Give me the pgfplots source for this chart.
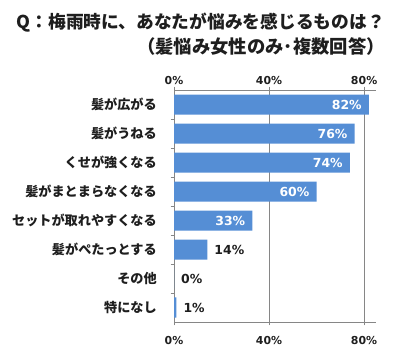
\documentclass[border=0pt]{standalone}
\usepackage{fontspec}
\usepackage{pgfplots}
\pgfplotsset{compat=1.18}
\newfontfamily\jp{Noto Sans CJK JP}
\newfontfamily\num{DejaVu Sans}
\definecolor{barblue}{RGB}{85,142,213}
\definecolor{axgray}{RGB}{134,134,134}
\definecolor{txt}{RGB}{30,30,30}
\begin{document}
\begin{tikzpicture}
\useasboundingbox (0,0) rectangle (400bp,361bp);
\node[anchor=east, inner sep=0pt, font=\jp\bfseries\fontsize{17.8}{21}\selectfont, text=txt] at (385bp,338bp) {Q：梅雨時に、あなたが悩みを感じるものは？};
\node[anchor=east, inner sep=0pt, font=\jp\bfseries\fontsize{18.4}{21}\selectfont, text=txt] at (385bp,314bp) {（髪悩み女性のみ･複数回答）};
\begin{axis}[at={(174bp,39bp)}, anchor=south west, scale only axis,
  width=202bp, height=232bp,
  xbar, bar shift=0pt, bar width=0.69,
  xmin=0, xmax=85, ymin=-0.5, ymax=7.5, y dir=reverse,
  axis x line=box, axis y line=left,
  axis line style={draw=axgray, -}, y axis line style={-},
  xtick={0,40,80}, xtick pos=both, tick align=outside,
  major tick length=3.3bp,
  tick style={draw=axgray, line width=0.6pt},
  xmajorgrids, grid style={draw=axgray, line width=0.6pt},
  xticklabel={\pgfmathprintnumber{\tick}\%},
  /pgf/number format/assume math mode=true,
  xticklabel style={font=\num\bfseries\fontsize{11}{13}\selectfont, text=txt, yshift=-8bp},
  ytick={0.5,1.5,...,6.5}, yticklabels={},
  extra y ticks={0,1,...,7},
  extra y tick labels={髪が広がる,髪がうねる,くせが強くなる,髪がまとまらなくなる,セットが取れやすくなる,髪がぺたっとする,その他,特になし},
  extra y tick style={major tick length=0pt, yticklabel style={font=\jp\bfseries\fontsize{13.2}{15}\selectfont, text=txt, anchor=east, inner sep=0pt, xshift=-17bp}},
]
\addplot[fill=barblue, draw=none,
  nodes near coords={\pgfmathprintnumber{\pgfplotspointmeta}\%},
  nodes near coords style={white, anchor=east, inner sep=0pt, xshift=-7bp, font=\num\bfseries\fontsize{12.5}{14}\selectfont}]
  coordinates {(82,0) (76,1) (74,2) (60,3) (33,4)};
\addplot[fill=barblue, draw=none,
  nodes near coords={\pgfmathprintnumber{\pgfplotspointmeta}\%},
  nodes near coords style={txt, anchor=west, inner sep=0pt, xshift=7bp, font=\num\bfseries\fontsize{12.5}{14}\selectfont}]
  coordinates {(14,5) (0,6) (1,7)};
\end{axis}
\begin{axis}[at={(174bp,39bp)}, anchor=south west, scale only axis,
  width=202bp, height=232bp,
  xmin=0, xmax=85, ymin=-0.5, ymax=7.5,
  axis x line=top, axis line style={draw=none}, hide y axis,
  xtick={0,40,80}, xtick style={draw=none},
  xticklabel={\pgfmathprintnumber{\tick}\%},
  /pgf/number format/assume math mode=true,
  xticklabel style={font=\num\bfseries\fontsize{11}{13}\selectfont, text=txt, yshift=0bp},
]
\addplot[draw=none] coordinates {(0,0)};
\end{axis}
\end{tikzpicture}
\end{document}
